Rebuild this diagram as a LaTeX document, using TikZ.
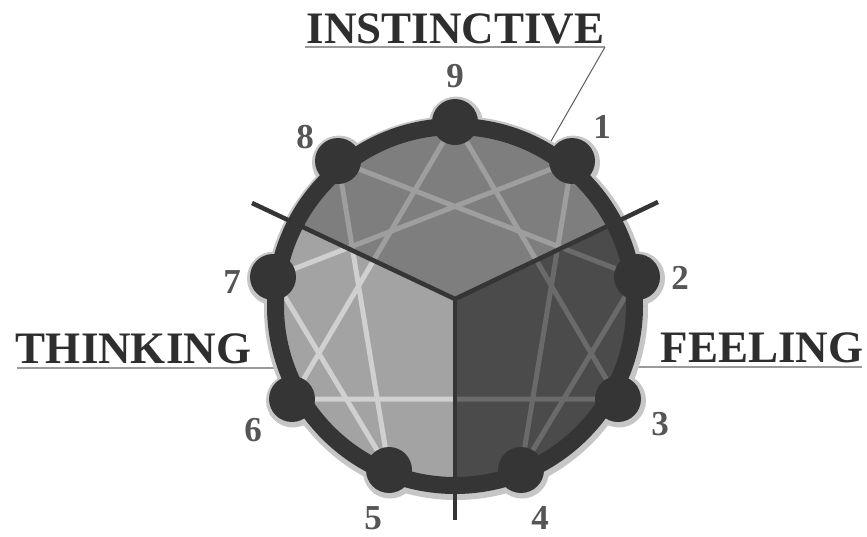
\documentclass[tikz,border=0pt]{standalone}
\usepackage{fontspec}
\setmainfont{Liberation Serif}
\definecolor{ringgray}{HTML}{353535}
\definecolor{halogray}{HTML}{C6C6C6}
\definecolor{topfill}{HTML}{7E7E7E}
\definecolor{leftfill}{HTML}{A3A3A3}
\definecolor{rightfill}{HTML}{4B4B4B}
\definecolor{topline}{HTML}{9E9E9E}
\definecolor{leftline}{HTML}{D0D0D0}
\definecolor{rightline}{HTML}{6A6A6A}
\definecolor{numgray}{HTML}{555555}
\definecolor{labgray}{HTML}{2E2E2E}
\definecolor{ulgray}{HTML}{9A9A9A}
\begin{document}
\begin{tikzpicture}[x=1pt,y=-1pt,
  eline/.style={line width=5pt},
  dot/.style={circle, fill=ringgray, minimum size=46pt, inner sep=0pt},
  halodot/.style={circle, fill=halogray, minimum size=54pt, inner sep=0pt},
  num/.style={font=\fontsize{35}{35}\selectfont\bfseries, text=numgray, inner sep=0pt},
  lab/.style={font=\fontsize{45}{45}\selectfont\bfseries, text=labgray, inner sep=0pt, anchor=base},
  uline/.style={draw=ulgray, line width=1.8pt},
  yline/.style={draw=ringgray, line width=4.5pt}]
\useasboundingbox (0,0) rectangle (867,536);
% coordinates
\coordinate (C) at (455,299);
\coordinate (UL) at (252,203);
\coordinate (UR) at (658,202);
\coordinate (B) at (455,520);
\coordinate (p9) at (455,122);
\coordinate (p1) at (572,161);
\coordinate (p2) at (637,277);
\coordinate (p3) at (618,399);
\coordinate (p4) at (521,470);
\coordinate (p5) at (389,470);
\coordinate (p6) at (292,399);
\coordinate (p7) at (273,277);
\coordinate (p8) at (338,161);
% underlines
\coordinate (uIa) at (305,47);
\coordinate (uIb) at (605,47);
\coordinate (uId) at (550,143);
\coordinate (uTa) at (17,368);
\coordinate (uTb) at (285,368);
\coordinate (uFa) at (628,367);
\coordinate (uFb) at (862,367);
\draw[uline] (uIa) -- (uIb);
\draw[draw=ringgray!80, line width=1pt] (uIb) -- (uId);
\draw[uline] (uTa) -- (uTb);
\draw[uline] (uFa) -- (uFb);
% halo
\draw[halogray, line width=25pt] (456,308) circle[radius=179.5pt];
\foreach \p in {p1,p2,p3,p4,p5,p6,p7,p8,p9}{
  \node[halodot] at ([shift={(1,1.5)}]\p) {};
}
% sectors
\begin{scope}
  \clip (455,306) circle[radius=172pt];
  \clip (C) -- (49,107) -- (49,-300) -- (861,-300) -- (861,105) -- cycle;
  \fill[topfill] (0,-100) rectangle (900,800);
  \draw[eline, topline] (p9) -- (p3) -- (p6) -- cycle;
  \draw[eline, topline] (p1) -- (p4) -- (p2) -- (p8) -- (p5) -- (p7) -- cycle;
\end{scope}
\begin{scope}
  \clip (455,306) circle[radius=172pt];
  \clip (C) -- (49,107) -- (0,107) -- (0,800) -- (455,800) -- cycle;
  \fill[leftfill] (0,-100) rectangle (900,800);
  \draw[eline, leftline] (p9) -- (p3) -- (p6) -- cycle;
  \draw[eline, leftline] (p1) -- (p4) -- (p2) -- (p8) -- (p5) -- (p7) -- cycle;
\end{scope}
\begin{scope}
  \clip (455,306) circle[radius=172pt];
  \clip (C) -- (861,105) -- (900,105) -- (900,800) -- (455,800) -- cycle;
  \fill[rightfill] (0,-100) rectangle (900,800);
  \draw[eline, rightline] (p9) -- (p3) -- (p6) -- cycle;
  \draw[eline, rightline] (p1) -- (p4) -- (p2) -- (p8) -- (p5) -- (p7) -- cycle;
\end{scope}
% Y lines
\draw[yline] (UL) -- (C) -- (UR);
\draw[yline] (C) -- (B);
% ring
\draw[ringgray, line width=17pt] (455,306) circle[radius=179.5pt];
% nodes
\node[dot] (n9) at (p9) {};
\node[dot] (n1) at (p1) {};
\node[dot] (n2) at (p2) {};
\node[dot] (n3) at (p3) {};
\node[dot] (n4) at (p4) {};
\node[dot] (n5) at (p5) {};
\node[dot] (n6) at (p6) {};
\node[dot] (n7) at (p7) {};
\node[dot] (n8) at (p8) {};
% numbers
\node[num] (l9) at (455,76) {9};
\node[num] (l1) at (602,127) {1};
\node[num] (l8) at (305,137) {8};
\node[num] (l7) at (232,282) {7};
\node[num] (l2) at (680,278) {2};
\node[num] (l6) at (253,430) {6};
\node[num] (l3) at (660,424) {3};
\node[num] (l5) at (373,518) {5};
\node[num] (l4) at (540,518) {4};
% labels
\node[lab] (tI) at (455.5,43) {INSTINCTIVE};
\node[lab] (tT) at (133.5,363) {THINKING};
\node[lab] (tF) at (762,362) {FEELING};
\end{tikzpicture}
\end{document}
